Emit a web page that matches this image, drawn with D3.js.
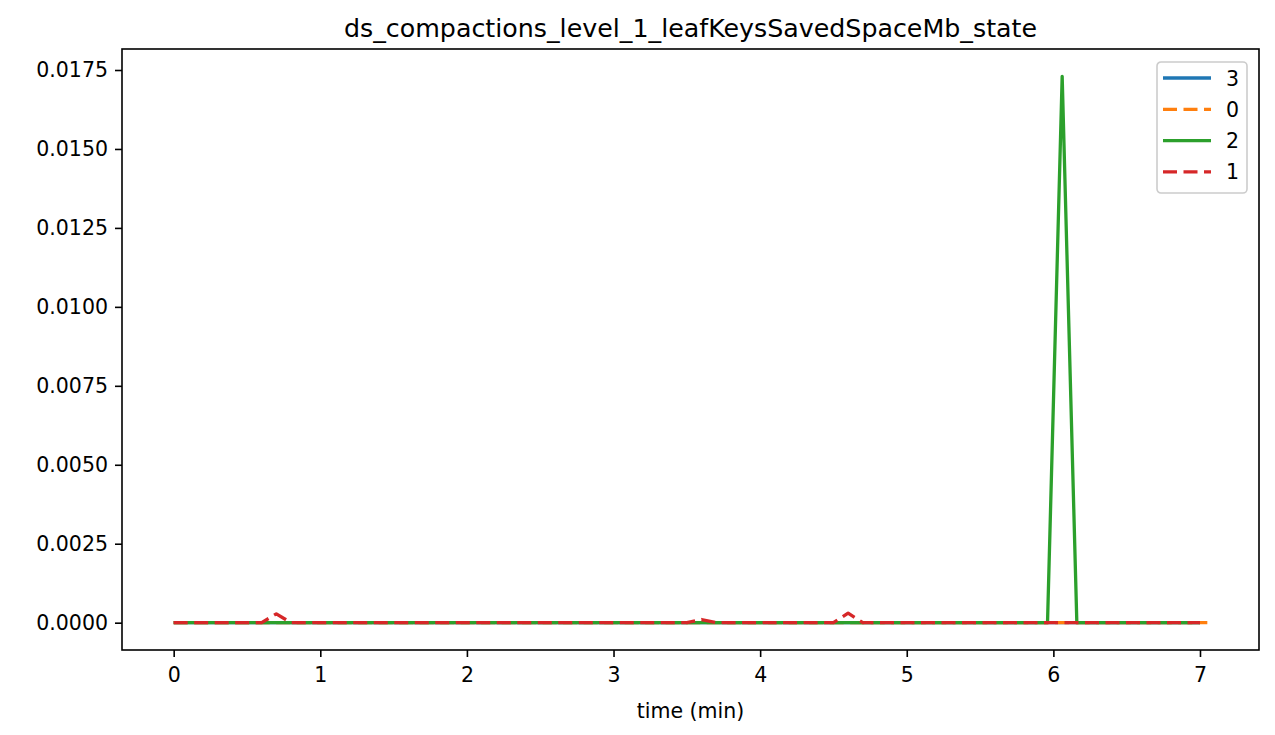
<html>
  <head>
    <title>chart</title>
    <script src="https://d3js.org/d3.v7.min.js"></script>
    <style>
      body { margin: 0; background: #fff; }
      text { font-family: "DejaVu Sans", sans-serif; }
    </style>
  </head>
  <body>
    <div id='wrapper'></div>
    <script>
      // series vertices (time in min, value); flat zero stretches only keep their ends
      var names = ["3", "0", "2", "1"];
      var colors = ["#1f77b4", "#ff7f0e", "#2ca02c", "#d62728"];
      var dashed = [false, true, false, true];

      var t3 = [0, 7.0];
      var v3 = [0, 0];
      var t0 = [0, 7.05];
      var v0 = [0, 0];
      var t2 = [0, 5.96, 6.06, 6.16, 7.0];
      var v2 = [0, 0, 0.0173, 0, 0];
      var t1 = [0, 0.6, 0.7, 0.8, 3.5, 3.6, 3.7, 4.5, 4.6, 4.7, 7.0];
      var v1 = [0, 0, 0.00028, 0, 0, 0.0001, 0, 0, 0.0003, 0, 0];

      var xTicks = [0, 1, 2, 3, 4, 5, 6, 7];
      var yTicks = [0, 0.0025, 0.005, 0.0075, 0.01, 0.0125, 0.015, 0.0175];

      var series = [[t3, v3], [t0, v0], [t2, v2], [t1, v1]];

      var W = 1275, H = 735;
      var padL = 122, padR = 1259, padT = 49, padB = 650;
      var tickFont = "20.5px";
      var dash = "14,6.5";

      var svg = d3.select("#wrapper").append("svg")
        .attr("width", W).attr("height", H);

      // matplotlib-like 5% margins
      var xMax = d3.max(series, function(s) { return d3.max(s[0]); });
      var yMax = d3.max(series, function(s) { return d3.max(s[1]); });
      var xScale = d3.scaleLinear()
        .domain([-0.05 * xMax, xMax * 1.05]).range([padL, padR]);
      var yScale = d3.scaleLinear()
        .domain([-0.05 * yMax, yMax * 1.05]).range([padB, padT]);

      var xAxis = d3.axisBottom(xScale).tickValues(xTicks)
        .tickFormat(d3.format("d")).tickSize(7).tickPadding(10);
      var gx = svg.append("g")
        .attr("transform", "translate(0," + padB + ")")
        .call(xAxis);
      var yAxis = d3.axisLeft(yScale).tickValues(yTicks)
        .tickFormat(d3.format(".4f")).tickSize(7).tickPadding(7);
      var gy = svg.append("g")
        .attr("transform", "translate(" + padL + ",0)")
        .call(yAxis);
      [gx, gy].forEach(function(g) {
        g.select(".domain").remove();
        g.selectAll(".tick line").attr("stroke", "#000").attr("stroke-width", 1.6);
        g.selectAll(".tick text").attr("fill", "#000")
          .style("font-size", tickFont);
      });

      var line = d3.line()
        .x(function(d) { return xScale(d[0]); })
        .y(function(d) { return yScale(d[1]); });

      series.forEach(function(s, i) {
        var pts = s[0].map(function(t, j) { return [t, s[1][j]]; });
        svg.append("path")
          .datum(pts)
          .attr("d", line)
          .attr("fill", "none")
          .attr("stroke", colors[i])
          .attr("stroke-width", 3.3)
          .attr("stroke-linejoin", "round")
          .attr("stroke-dasharray", dashed[i] ? dash : null);
      });

      // frame
      svg.append("rect")
        .attr("x", padL).attr("y", padT)
        .attr("width", padR - padL).attr("height", padB - padT)
        .attr("fill", "none").attr("stroke", "#000").attr("stroke-width", 1.6);

      svg.append("text")
        .attr("x", (padL + padR) / 2).attr("y", 37)
        .attr("text-anchor", "middle")
        .style("font-size", "25.3px")
        .text("ds_compactions_level_1_leafKeysSavedSpaceMb_state");

      svg.append("text")
        .attr("x", (padL + padR) / 2).attr("y", 718)
        .attr("text-anchor", "middle")
        .style("font-size", tickFont)
        .text("time (min)");

      // legend
      var lg = svg.append("g").attr("transform", "translate(1157,62)");
      lg.append("rect")
        .attr("width", 90).attr("height", 131).attr("rx", 4)
        .attr("fill", "#fff").attr("fill-opacity", 0.8)
        .attr("stroke", "#ccc").attr("stroke-width", 1.6);
      names.forEach(function(n, i) {
        var y = 16 + i * 31.3;
        lg.append("line")
          .attr("x1", 6).attr("x2", 54).attr("y1", y).attr("y2", y)
          .attr("stroke", colors[i]).attr("stroke-width", 3.3)
          .attr("stroke-dasharray", dashed[i] ? dash : null);
        lg.append("text")
          .attr("x", 69).attr("y", y + 7.5)
          .style("font-size", tickFont)
          .text(n);
      });
    </script>
  </body>
</html>
